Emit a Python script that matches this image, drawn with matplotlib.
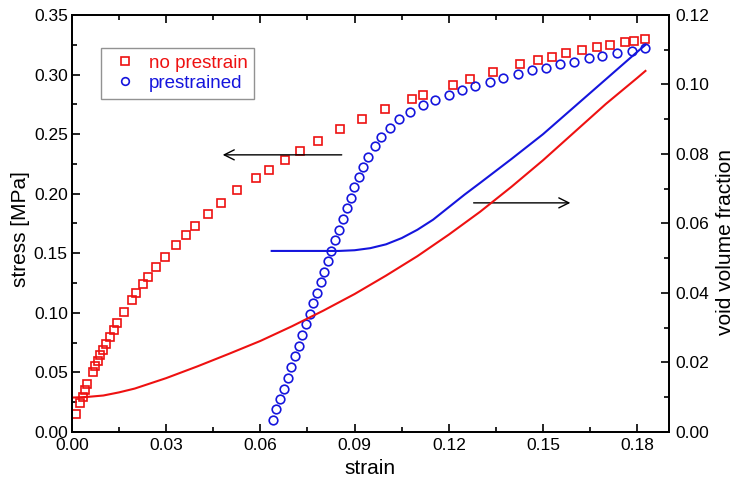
import matplotlib
matplotlib.use("Agg")
import matplotlib.pyplot as plt
from matplotlib.ticker import MultipleLocator, FormatStrFormatter

plt.rcParams['font.family'] = ['Liberation Sans', 'DejaVu Sans']

# stress data (left axis)
np_strain = [0.0014, 0.0026, 0.0036, 0.0042, 0.0049, 0.0068, 0.0075, 0.0083, 0.0089, 0.0098,
             0.0108, 0.0121, 0.0133, 0.0143, 0.0165, 0.0190, 0.0204, 0.0225, 0.0241, 0.0267,
             0.0295, 0.0331, 0.0362, 0.0391, 0.0433, 0.0475, 0.0527, 0.0585, 0.0628, 0.0678,
             0.0725, 0.0784, 0.0854, 0.0925, 0.0997, 0.1083, 0.1117, 0.1212, 0.1267, 0.1340,
             0.1427, 0.1483, 0.1527, 0.1572, 0.1623, 0.1671, 0.1712, 0.1761, 0.1790, 0.1826]
np_stress = [0.0151, 0.0244, 0.0297, 0.0353, 0.0403, 0.0507, 0.0557, 0.0599, 0.0647, 0.0689,
             0.0742, 0.0800, 0.0856, 0.0913, 0.1010, 0.1106, 0.1170, 0.1240, 0.1301, 0.1383,
             0.1469, 0.1573, 0.1657, 0.1730, 0.1830, 0.1920, 0.2029, 0.2133, 0.2202, 0.2284,
             0.2362, 0.2446, 0.2541, 0.2625, 0.2709, 0.2793, 0.2832, 0.2916, 0.2965, 0.3022,
             0.3087, 0.3121, 0.3149, 0.3177, 0.3206, 0.3232, 0.3250, 0.3270, 0.3280, 0.3297]

pre_strain = [0.0640, 0.0650, 0.0664, 0.0674, 0.0687, 0.0699, 0.0710, 0.0722, 0.0734, 0.0745,
              0.0757, 0.0769, 0.0780, 0.0792, 0.0804, 0.0815, 0.0826, 0.0839, 0.0850, 0.0863,
              0.0876, 0.0888, 0.0899, 0.0914, 0.0927, 0.0944, 0.0964, 0.0984, 0.1012, 0.1041,
              0.1075, 0.1118, 0.1155, 0.1199, 0.1243, 0.1282, 0.1330, 0.1372, 0.1420, 0.1466,
              0.1508, 0.1555, 0.1600, 0.1645, 0.1688, 0.1734, 0.1782, 0.1825]
pre_stress = [0.0101, 0.0193, 0.0280, 0.0364, 0.0456, 0.0546, 0.0635, 0.0722, 0.0812, 0.0904,
              0.0988, 0.1081, 0.1167, 0.1259, 0.1343, 0.1433, 0.1522, 0.1612, 0.1696, 0.1791,
              0.1878, 0.1967, 0.2055, 0.2141, 0.2225, 0.2312, 0.2404, 0.2480, 0.2555, 0.2625,
              0.2689, 0.2746, 0.2788, 0.2827, 0.2869, 0.2908, 0.2941, 0.2975, 0.3003, 0.3037,
              0.3059, 0.3087, 0.3109, 0.3135, 0.3157, 0.3182, 0.3201, 0.3227]

# void volume fraction (right axis)
np_void_strain = [0.0, 0.005, 0.01, 0.015, 0.02, 0.03, 0.04, 0.05, 0.06, 0.07, 0.08, 0.09,
                  0.10, 0.11, 0.12, 0.13, 0.14, 0.15, 0.16, 0.17, 0.18, 0.1826]
np_void = [0.0099, 0.0101, 0.0105, 0.0114, 0.0125, 0.0155, 0.0189, 0.0225, 0.0262, 0.0304,
           0.0349, 0.0397, 0.0450, 0.0506, 0.0568, 0.0634, 0.0706, 0.0782, 0.0863, 0.0944,
           0.1019, 0.1039]

pre_void_strain = [0.0636, 0.075, 0.085, 0.09, 0.095, 0.10, 0.105, 0.11, 0.115, 0.12, 0.125,
                   0.13, 0.14, 0.15, 0.16, 0.17, 0.18, 0.1826]
pre_void = [0.0521, 0.0521, 0.0521, 0.0523, 0.0529, 0.0540, 0.0558, 0.0582, 0.0611, 0.0647,
            0.0683, 0.0717, 0.0786, 0.0857, 0.0936, 0.1015, 0.1094, 0.1114]

fig = plt.figure(figsize=(7.34, 4.83), dpi=100)
ax = fig.add_axes([0.098, 0.1056, 0.813, 0.8634])
ax2 = ax.twinx()

red = '#ee1111'
blue = '#1515dd'

ax.plot(np_strain, np_stress, 's', ms=6.0, mfc='none', mec=red, mew=1.2, label='no prestrain')
ax.plot(pre_strain, pre_stress, 'o', ms=6.2, mfc='none', mec=blue, mew=1.2, label='prestrained')
ax2.plot(np_void_strain, np_void, '-', color=red, lw=1.5)
ax2.plot(pre_void_strain, pre_void, '-', color=blue, lw=1.5)

ax.set_xlim(0, 0.19)
ax.set_ylim(0, 0.35)
ax2.set_ylim(0, 0.12)

ax.xaxis.set_major_locator(MultipleLocator(0.03))
ax.xaxis.set_minor_locator(MultipleLocator(0.015))
ax.yaxis.set_major_locator(MultipleLocator(0.05))
ax.yaxis.set_minor_locator(MultipleLocator(0.025))
ax2.yaxis.set_major_locator(MultipleLocator(0.02))
ax2.yaxis.set_minor_locator(MultipleLocator(0.01))
ax.xaxis.set_major_formatter(FormatStrFormatter('%.2f'))
ax.yaxis.set_major_formatter(FormatStrFormatter('%.2f'))
ax2.yaxis.set_major_formatter(FormatStrFormatter('%.2f'))

fs = 12.5
ax.tick_params(axis='x', which='both', direction='in', top=True, labelsize=fs, pad=4)
ax.tick_params(axis='y', which='both', direction='in', right=False, labelsize=fs, pad=3)
ax2.tick_params(axis='y', which='both', direction='in', labelsize=fs, pad=5)
for a in (ax, ax2):
    a.tick_params(which='major', length=6, width=1.2)
    a.tick_params(which='minor', length=3.5, width=1.2)
    for s in a.spines.values():
        s.set_linewidth(1.3)

ax.set_xlabel('strain', fontsize=15, labelpad=5)
ax.set_ylabel('stress [MPa]', fontsize=15, labelpad=3)
ax2.set_ylabel('void volume fraction', fontsize=15, labelpad=5)
ax.yaxis.label.set_y(0.487)
ax2.yaxis.label.set_y(0.456)

leg = ax.legend(loc='upper left', bbox_to_anchor=(0.049, 0.92), fontsize=13.5,
                frameon=True, fancybox=False, edgecolor='#777777', handlelength=1.8,
                handletextpad=0.4, borderpad=0.35, labelspacing=0.15, borderaxespad=0)
leg.get_frame().set_linewidth(1.0)
for txt, col in zip(leg.get_texts(), (red, blue)):
    txt.set_color(col)
for h in leg.legend_handles:
    h.set_markersize(5.5)

ax.annotate('', xy=(0.048, 0.2326), xytext=(0.0859, 0.2326),
            arrowprops=dict(arrowstyle='->', color='black', lw=1.0, mutation_scale=18,
                            shrinkA=0, shrinkB=0))
ax.annotate('', xy=(0.1587, 0.1923), xytext=(0.1279, 0.1923),
            arrowprops=dict(arrowstyle='->', color='black', lw=1.0, mutation_scale=18,
                            shrinkA=0, shrinkB=0))

fig.savefig('out.png', dpi=100)
